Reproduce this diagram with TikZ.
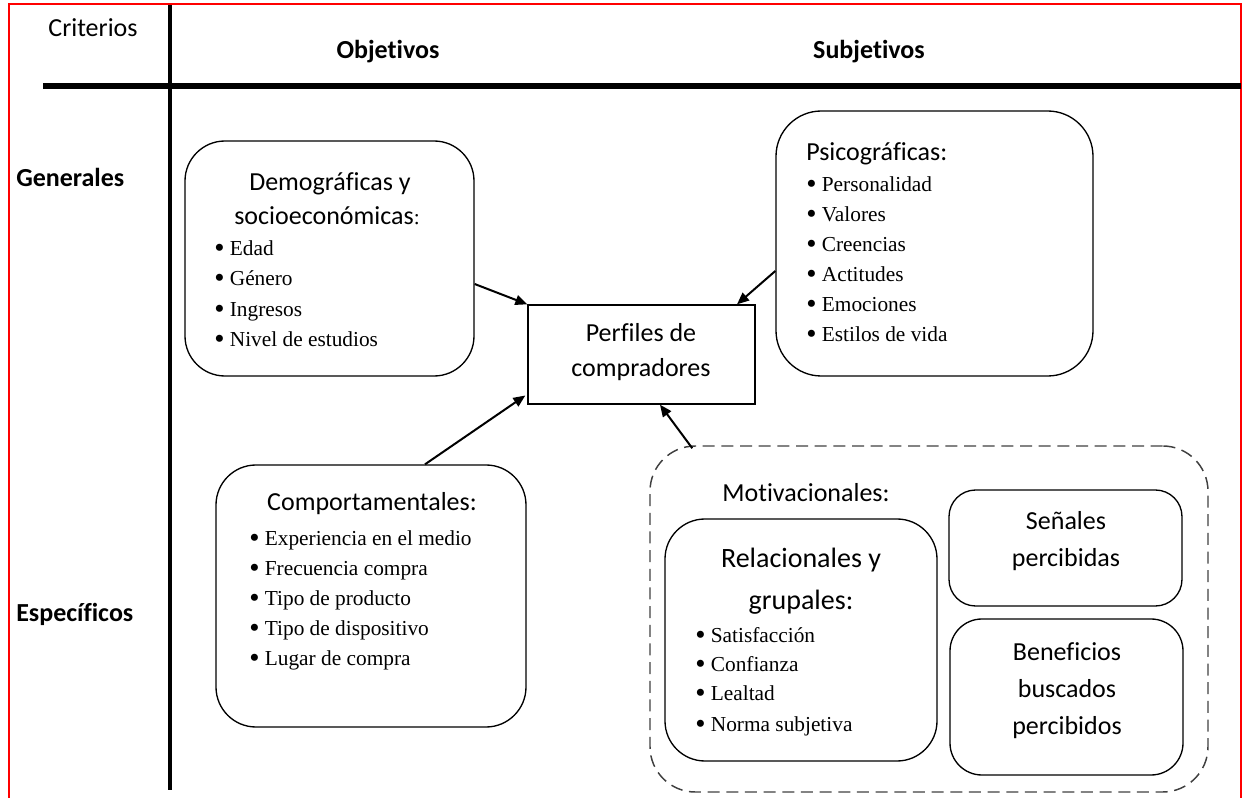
\documentclass[tikz,border=0pt]{standalone}
\usepackage{fontspec}
\setmainfont{Liberation Serif}
\newfontfamily\cfont[Ligatures=NoCommon]{Carlito}
\usetikzlibrary{arrows.meta,calc}
\newcommand\bul{\raisebox{-1.6pt}{\fontsize{22}{22}\selectfont\textbullet}\hspace{4pt}}
\begin{document}
\begin{tikzpicture}[x=0.75pt,y=-0.75pt,
  wh/.style 2 args={minimum width=#1*0.75pt,minimum height=#2*0.75pt},
  rbox/.style={draw,line width=1pt,inner sep=0pt,rounded corners=#1},
  rbox/.default=30pt,
  pbox/.style={draw,line width=1pt,inner sep=0pt},
  dbox/.style={draw=black!75,line width=1.1pt,inner sep=0pt,rounded corners=34pt,dash pattern=on 9pt off 5pt},
  lab/.style={font=\cfont\fontsize{19.5}{23}\selectfont,inner sep=0pt,text height=12.6pt,text depth=0pt},
  labb/.style={lab,font=\cfont\bfseries\fontsize{19.5}{23}\selectfont},
  head/.style={lab},
  bighead/.style={lab,font=\cfont\fontsize{21}{25}\selectfont,text height=13.5pt},
  item/.style={font=\fontsize{16}{19}\selectfont,inner sep=0pt,text height=10.6pt,text depth=0pt,anchor=west},
  arr/.style={line width=1.5pt,-{Triangle[length=9pt,width=7.5pt]}}
]
\useasboundingbox (0,0) rectangle (1243,798);
% frame
\draw[red,line width=1.5pt] (8.5,798) -- (8.5,4.5) -- (1241,4.5) -- (1241,798);
% table rules
\draw[line width=2.6pt] (170,5) -- (170,790);
\draw[line width=4pt] (43,86) -- (1241,86);
% headers
\node[lab] (crit) at (93,28) {Criterios};
\node[labb] (obj) at (388,50) {Objetivos};
\node[labb] (subj) at (869,50) {Subjetivos};
\node[labb,anchor=west] (gen) at (16,178) {Generales};
\node[labb,anchor=west] (esp) at (16,613) {Específicos};
% boxes
\node[rbox=30pt,wh={289}{235}] (demo) at (329.5,258.5) {};
\node[rbox=34pt,wh={317}{265}] (psico) at (934.5,243.5) {};
\node[pbox,wh={227}{99}] (perf) at (641.5,354.5) {};
\node[rbox=30pt,wh={310}{262}] (comp) at (371,596) {};
\node[dbox,wh={558}{346}] (motiv) at (929,619) {};
\node[rbox=30pt,wh={272}{242}] (rel) at (801,640) {};
\node[rbox=20pt,wh={233}{116}] (sen) at (1065.5,548) {};
\node[rbox=24pt,wh={233}{156}] (ben) at (1066.5,697) {};
% demo text
\node[head] (demoA) at (330,182) {Demográficas y};
\node[head] (demoB) at (327,216) {socioeconómicas{\rmfamily\fontsize{16}{19}\selectfont:}};
\node[item] (d1) at (214,248) {\bul Edad};
\node[item] (d2) at (214,278) {\bul Género};
\node[item] (d3) at (214,309) {\bul Ingresos};
\node[item] (d4) at (214,339) {\bul Nivel de estudios};
% psico text
\node[head,anchor=west] (psA) at (806,152) {Psicográficas:};
\node[item] (p1) at (806,184) {\bul Personalidad};
\node[item] (p2) at (806,214) {\bul Valores};
\node[item] (p3) at (806,244) {\bul Creencias};
\node[item] (p4) at (806,274) {\bul Actitudes};
\node[item] (p5) at (806,304) {\bul Emociones};
\node[item] (p6) at (806,334) {\bul Estilos de vida};
% perfiles text
\node[head] (pfA) at (641,333) {Perfiles de};
\node[head] (pfB) at (641,368) {compradores};
% comport text
\node[head] (cmA) at (372,502) {Comportamentales:};
\node[item] (c1) at (249,538) {\bul Experiencia en el medio};
\node[item] (c2) at (249,568) {\bul Frecuencia compra};
\node[item] (c3) at (249,598) {\bul Tipo de producto};
\node[item] (c4) at (249,628) {\bul Tipo de dispositivo};
\node[item] (c5) at (249,658) {\bul Lugar de compra};
% motivacionales
\node[head] (mvA) at (806,493) {Motivacionales:};
\node[bighead] (rlA) at (801,558) {Relacionales y};
\node[bighead] (rlB) at (801,600) {grupales:};
\node[item] (r1) at (695,635) {\bul Satisfacción};
\node[item] (r2) at (695,664) {\bul Confianza};
\node[item] (r3) at (695,693) {\bul Lealtad};
\node[item] (r4) at (695,724) {\bul Norma subjetiva};
\node[head] (snA) at (1066,521) {Señales};
\node[head] (snB) at (1066,558) {percibidas};
\node[head] (bnA) at (1067,652) {Beneficios};
\node[head] (bnB) at (1067,689) {buscados};
\node[head] (bnC) at (1067,726) {percibidos};
% arrows
\draw[arr] ($(demo.east)+(0,25.5)$) -- (perf.north west);
\draw[arr] ($(psico.west)+(0,27.5)$) -- ($(perf.north)+(95.5,0)$);
\draw[arr] ($(comp.north)+(54,0)$) -- ($(perf.west)+(-2,41)$);
\draw[arr] ($(motiv.north west)+(43,3)$) -- ($(perf.south)+(18.5,0)$);
\end{tikzpicture}
\end{document}
